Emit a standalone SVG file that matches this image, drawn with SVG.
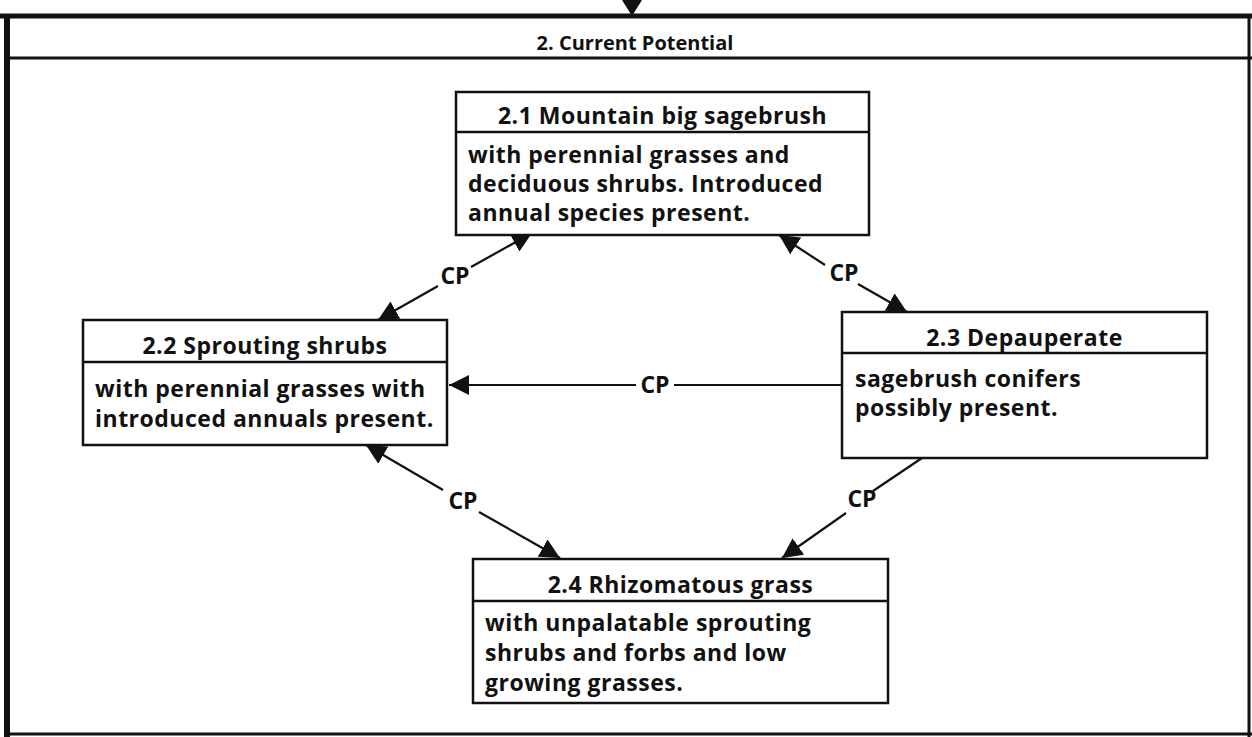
<svg xmlns="http://www.w3.org/2000/svg" width="1252" height="737" viewBox="0 0 1252 737">
<defs>
<style>
.box{fill:#fff;stroke:#111;stroke-width:2.5;}
.div{stroke:#111;stroke-width:2.5;}
.hd{font-family:"Open Sans",Lato,sans-serif;font-weight:bold;font-size:23px;letter-spacing:0.5px;fill:#111;text-anchor:middle;}
.bd{font-family:"Open Sans",Lato,sans-serif;font-weight:bold;font-size:23px;letter-spacing:0.5px;fill:#111;}
.ttl{font-family:"Open Sans",Lato,sans-serif;font-weight:bold;font-size:20px;fill:#111;text-anchor:middle;}
.cp{font-family:"Open Sans",Lato,sans-serif;font-weight:bold;font-size:23px;fill:#111;text-anchor:middle;}
.con{stroke:#111;stroke-width:2.2;fill:none;marker-end:url(#ah);}
.plain{stroke:#111;stroke-width:2.2;fill:none;}
</style>
<marker id="ah" markerUnits="userSpaceOnUse" markerWidth="22" markerHeight="20" refX="20" refY="10" orient="auto">
<path d="M0,0 L20,10 L0,20 z" fill="#111"/>
</marker>
</defs>
<rect width="1252" height="737" fill="#fff"/>
<g id="frame">
<line x1="0" y1="16" x2="1252" y2="16" stroke="#111" stroke-width="5"/>
<line x1="7" y1="14" x2="7" y2="737" stroke="#111" stroke-width="6"/>
<line x1="1249" y1="14" x2="1249" y2="737" stroke="#111" stroke-width="3"/>
<line x1="4" y1="734" x2="1252" y2="734" stroke="#111" stroke-width="3"/>
<line x1="4" y1="58" x2="1252" y2="58" stroke="#111" stroke-width="3"/>
<text class="ttl" x="635" y="50">2. Current Potential</text>
<path d="M622,0 L642,0 L632,16 z" fill="#111"/>
</g>
<g id="connectors">
<line class="con" x1="438" y1="286" x2="378" y2="320"/>
<line class="con" x1="471" y1="267" x2="532" y2="233"/>
<text class="cp" x="455" y="284">CP</text>
<line class="con" x1="825" y1="265" x2="779" y2="235"/>
<line class="con" x1="858" y1="284" x2="907" y2="312"/>
<text class="cp" x="844" y="281">CP</text>
<line class="con" x1="636" y1="385" x2="449" y2="385"/>
<line class="plain" x1="674" y1="385" x2="842" y2="385"/>
<text class="cp" x="655" y="393">CP</text>
<line class="con" x1="443" y1="490" x2="366" y2="445"/>
<line class="con" x1="479" y1="512" x2="560" y2="558"/>
<text class="cp" x="463" y="509">CP</text>
<line class="plain" x1="922" y1="458" x2="873" y2="491"/>
<line class="con" x1="846" y1="513" x2="782" y2="558"/>
<text class="cp" x="862" y="507">CP</text>
</g>
<g id="n21">
<rect class="box" x="456" y="92" width="413" height="143"/>
<line class="div" x1="456" y1="132" x2="869" y2="132"/>
<text class="hd" x="662.5" y="124">2.1 Mountain big sagebrush</text>
<text class="bd" x="468" y="163">with perennial grasses and</text>
<text class="bd" x="468" y="192">deciduous shrubs. Introduced</text>
<text class="bd" x="468" y="221">annual species present.</text>
</g>
<g id="n22">
<rect class="box" x="83" y="320" width="364" height="125"/>
<line class="div" x1="83" y1="362" x2="447" y2="362"/>
<text class="hd" x="265" y="354">2.2 Sprouting shrubs</text>
<text class="bd" x="95" y="397">with perennial grasses with</text>
<text class="bd" x="95" y="427">introduced annuals present.</text>
</g>
<g id="n23">
<rect class="box" x="842" y="312" width="365" height="146"/>
<line class="div" x1="842" y1="353" x2="1207" y2="353"/>
<text class="hd" x="1024.5" y="346">2.3 Depauperate</text>
<text class="bd" x="855" y="387">sagebrush conifers</text>
<text class="bd" x="855" y="416">possibly present.</text>
</g>
<g id="n24">
<rect class="box" x="473" y="559" width="415" height="144"/>
<line class="div" x1="473" y1="601" x2="888" y2="601"/>
<text class="hd" x="680.5" y="593">2.4 Rhizomatous grass</text>
<text class="bd" x="485" y="631">with unpalatable sprouting</text>
<text class="bd" x="485" y="661">shrubs and forbs and low</text>
<text class="bd" x="485" y="691">growing grasses.</text>
</g>
</svg>
